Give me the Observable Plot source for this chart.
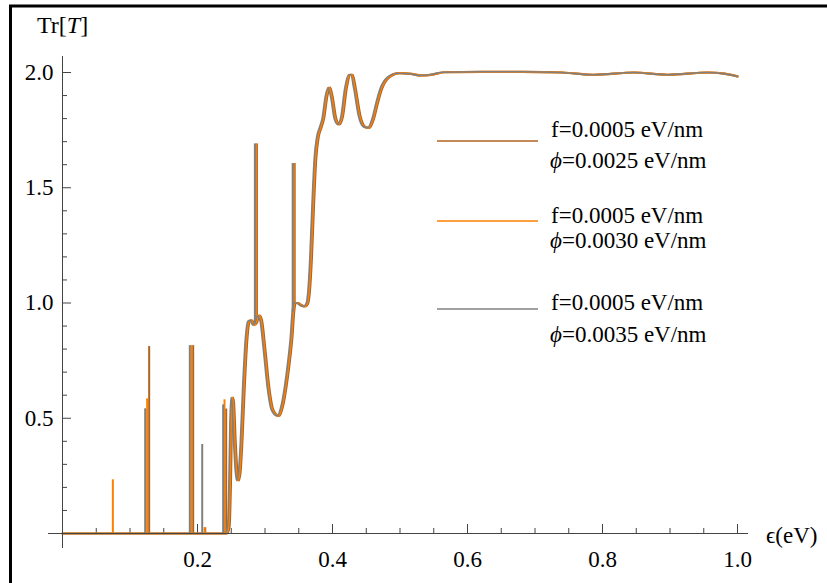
<!DOCTYPE html>
<html><head><meta charset="utf-8">
<script src="https://cdn.jsdelivr.net/npm/d3@7"></script>
<script src="https://cdn.jsdelivr.net/npm/@observablehq/plot@0.6"></script>
<style>
html,body{margin:0;padding:0;background:#fff;}
#chart{position:relative;width:827px;height:583px;overflow:hidden;}
</style></head><body><div id="chart"></div>
<script>
// ---- data ----
const energyOrange = [0, 0.2425, 0.2460, 0.2480, 0.2495, 0.2510, 0.2525, 0.2550, 0.2575, 0.2595, 0.2620, 0.2650, 0.2685, 0.2725, 0.2760, 0.2795, 0.2830, 0.2865, 0.2905, 0.2940, 0.2990, 0.3050, 0.3110, 0.3195, 0.3250, 0.3300, 0.3350, 0.3390, 0.3420, 0.3440, 0.3480, 0.3530, 0.3580, 0.3620, 0.3650, 0.3680, 0.3710, 0.3745, 0.3780, 0.3820, 0.3860, 0.3910, 0.3950, 0.3990, 0.4040, 0.4090, 0.4140, 0.4195, 0.4250, 0.4285, 0.4330, 0.4400, 0.4470, 0.4535, 0.4600, 0.4660, 0.4720, 0.4830, 0.4980, 0.5160, 0.5300, 0.5450, 0.5650, 0.6200, 0.6800, 0.7400, 0.7870, 0.8460, 0.8960, 0.9550, 0.9800, 1.0000];
const energyGray = [0, 0.2410, 0.2445, 0.2465, 0.2480, 0.2495, 0.2510, 0.2535, 0.2560, 0.2580, 0.2605, 0.2635, 0.2670, 0.2710, 0.2745, 0.2780, 0.2815, 0.2850, 0.2890, 0.2925, 0.2975, 0.3035, 0.3095, 0.3180, 0.3235, 0.3285, 0.3335, 0.3375, 0.3405, 0.3425, 0.3465, 0.3515, 0.3565, 0.3605, 0.3635, 0.3665, 0.3695, 0.3730, 0.3765, 0.3805, 0.3845, 0.3895, 0.3935, 0.3975, 0.4025, 0.4075, 0.4125, 0.4180, 0.4235, 0.4270, 0.4315, 0.4385, 0.4455, 0.4520, 0.4585, 0.4645, 0.4705, 0.4815, 0.4965, 0.5145, 0.5285, 0.5435, 0.5635, 0.6185, 0.6785, 0.7385, 0.7855, 0.8445, 0.8945, 0.9535, 0.9785, 1.0000];
const energyBrown = [0, 0.2440, 0.2475, 0.2495, 0.2510, 0.2525, 0.2540, 0.2565, 0.2590, 0.2610, 0.2635, 0.2665, 0.2700, 0.2740, 0.2775, 0.2810, 0.2845, 0.2880, 0.2920, 0.2955, 0.3005, 0.3065, 0.3125, 0.3210, 0.3265, 0.3315, 0.3365, 0.3405, 0.3435, 0.3455, 0.3495, 0.3545, 0.3595, 0.3635, 0.3665, 0.3695, 0.3725, 0.3760, 0.3795, 0.3835, 0.3875, 0.3925, 0.3965, 0.4005, 0.4055, 0.4105, 0.4155, 0.4210, 0.4265, 0.4300, 0.4345, 0.4415, 0.4485, 0.4550, 0.4615, 0.4675, 0.4735, 0.4845, 0.4995, 0.5175, 0.5315, 0.5465, 0.5665, 0.6215, 0.6815, 0.7415, 0.7885, 0.8475, 0.8975, 0.9565, 0.9815, 1.0000];
const transmission = [0, 0, 0.03, 0.22, 0.48, 0.59, 0.57, 0.40, 0.27, 0.23, 0.26, 0.40, 0.64, 0.85, 0.92, 0.925, 0.905, 0.915, 0.945, 0.925, 0.80, 0.63, 0.535, 0.51, 0.55, 0.63, 0.74, 0.85, 0.97, 1.00, 1.00, 0.99, 0.985, 0.995, 1.05, 1.20, 1.42, 1.63, 1.72, 1.76, 1.80, 1.90, 1.935, 1.89, 1.80, 1.775, 1.81, 1.93, 1.99, 1.99, 1.93, 1.81, 1.765, 1.76, 1.80, 1.87, 1.93, 1.98, 1.997, 1.994, 1.987, 1.99, 2.001, 2.003, 2.003, 2.000, 1.990, 2.000, 1.990, 2.000, 1.995, 1.983];

// narrow resonances (energy, value at foot, value at top)
const spikeEnergyOrange = [0.0746, 0.1254, 0.1910, 0.2105, 0.2400, 0.2865, 0.3425];
const spikeFootOrange   = [0, 0, 0, 0, 0, 0.91, 0.98];
const spikeTopOrange    = [0.233, 0.584, 0.815, 0.025, 0.580, 1.690, 1.605];
const spikeEnergyGray = [0.1225, 0.1886, 0.2070, 0.2380, 0.2850, 0.3410];
const spikeFootGray   = [0, 0, 0, 0, 0.91, 0.96];
const spikeTopGray    = [0.541, 0.815, 0.386, 0.558, 1.690, 1.605];
const spikeEnergyBrown = [0.1284, 0.1936, 0.2115, 0.2425, 0.2880, 0.3440];
const spikeFootBrown   = [0, 0, 0, 0, 0.91, 0.99];
const spikeTopBrown    = [0.811, 0.815, 0.025, 0.540, 1.690, 1.605];

const seriesF = ["f=0.0005 eV/nm", "f=0.0005 eV/nm", "f=0.0005 eV/nm"];
const seriesPhi = ["0.0025 eV/nm", "0.0030 eV/nm", "0.0035 eV/nm"];
const seriesColors = ["#b0631f", "#ff8000", "#808080"];

const xMajorTicks = [0.2, 0.4, 0.6, 0.8, 1.0];
const xMinorTicks = [0.05, 0.1, 0.15, 0.25, 0.3, 0.35, 0.45, 0.5, 0.55, 0.65, 0.7, 0.75, 0.85, 0.9, 0.95];
const yMajorTicks = [0.5, 1.0, 1.5, 2.0];
const yMinorTicks = [0.1, 0.2, 0.3, 0.4, 0.6, 0.7, 0.8, 0.9, 1.1, 1.2, 1.3, 1.4, 1.6, 1.7, 1.8, 1.9];

// ---- build tables ----
const curve = (energy) => energy.map((e, i) => ({e, t: transmission[i]}));
const spikes = (E, F, T) => E.map((e, i) => ({e, f: F[i], t: T[i]}));
const series = [
  {color: seriesColors[0], w: 2.2, line: curve(energyBrown), sp: spikes(spikeEnergyBrown, spikeFootBrown, spikeTopBrown)},
  {color: seriesColors[1], w: 2.2, line: curve(energyOrange), sp: spikes(spikeEnergyOrange, spikeFootOrange, spikeTopOrange)},
  {color: seriesColors[2], w: 1.6, line: curve(energyGray), sp: spikes(spikeEnergyGray, spikeFootGray, spikeTopGray)}
];
const drawOrder = [0, 1, 2];

const font = "'Liberation Serif','Times New Roman',serif";
const axisColor = "#444";

const dataMarks = drawOrder.flatMap(k => [
  Plot.line(series[k].line, {x: "e", y: "t", stroke: series[k].color, strokeWidth: series[k].w, curve: "monotone-x"}),
  Plot.ruleX(series[k].sp, {x: "e", y1: "f", y2: "t", stroke: series[k].color, strokeWidth: 2})
]);

const plot = Plot.plot({
  width: 827, height: 583,
  marginLeft: 62, marginRight: 90, marginTop: 72, marginBottom: 50,
  x: {domain: [0, 1]},
  y: {domain: [0, 2]},
  style: {fontFamily: font, fontSize: "23px", background: "transparent", color: "#000"},
  marks: [
    Plot.axisX(xMinorTicks, {tickSize: 5, dy: -5, tickFormat: () => "", stroke: axisColor, label: null}),
    Plot.axisX(xMajorTicks, {tickSize: 9, dy: -9, tickFormat: () => "", stroke: axisColor, label: null}),
    Plot.axisX(xMajorTicks, {tickSize: 0, tickPadding: 17, tickFormat: d3.format(".1f"), fontSize: 23, fill: "#000", label: null}),
    Plot.axisY(yMinorTicks, {tickSize: 5, dx: 5, tickFormat: () => "", stroke: axisColor, label: null}),
    Plot.axisY(yMajorTicks, {tickSize: 9, dx: 9, tickFormat: () => "", stroke: axisColor, label: null}),
    Plot.axisY(yMajorTicks, {tickSize: 0, tickPadding: 9, tickFormat: d3.format(".1f"), fontSize: 23, fill: "#000", label: null}),
    ...dataMarks,
    Plot.ruleY([0], {stroke: axisColor, strokeWidth: 1, insetLeft: -14, insetRight: -11}),
    Plot.ruleX([0], {stroke: axisColor, strokeWidth: 1, insetTop: -16, insetBottom: -15})
  ]
});
document.getElementById("chart").appendChild(plot);

// ---- frame, axis titles, legend ----
const svg = d3.select(plot);
svg.append("line").attr("x1", 9).attr("x2", 827).attr("y1", 6).attr("y2", 6).attr("stroke", "#000").attr("stroke-width", 3);
svg.append("line").attr("x1", 10.5).attr("x2", 10.5).attr("y1", 5).attr("y2", 583).attr("stroke", "#000").attr("stroke-width", 3);

const yTitle = svg.append("text").attr("x", 37).attr("y", 33).attr("text-anchor", "start")
  .attr("font-family", font).attr("font-size", 24).attr("fill", "#000");
yTitle.append("tspan").text("Tr[");
yTitle.append("tspan").attr("font-style", "italic").text("T");
yTitle.append("tspan").text("]");

svg.append("text").attr("x", 766).attr("y", 543).attr("text-anchor", "start")
  .attr("font-family", font).attr("font-size", 23).attr("fill", "#000").text("\u03F5(eV)");

const legendLineY = [141, 221, 309];
const legendFY = [137, 223, 310];
const legendPhiY = [168, 248, 342];
const lg = svg.append("g").attr("font-family", font).attr("font-size", 23).attr("fill", "#000").attr("text-anchor", "start");
[0, 1, 2].forEach(i => {
  lg.append("line").attr("x1", 437).attr("x2", 538).attr("y1", legendLineY[i]).attr("y2", legendLineY[i])
    .attr("stroke", seriesColors[i]).attr("stroke-width", 1.5);
  lg.append("text").attr("x", 551).attr("y", legendFY[i]).text(seriesF[i]);
  const t = lg.append("text").attr("x", 550).attr("y", legendPhiY[i]);
  t.append("tspan").attr("font-style", "italic").text("\u03D5");
  t.append("tspan").text("=" + seriesPhi[i]);
});
</script>
</body></html>
